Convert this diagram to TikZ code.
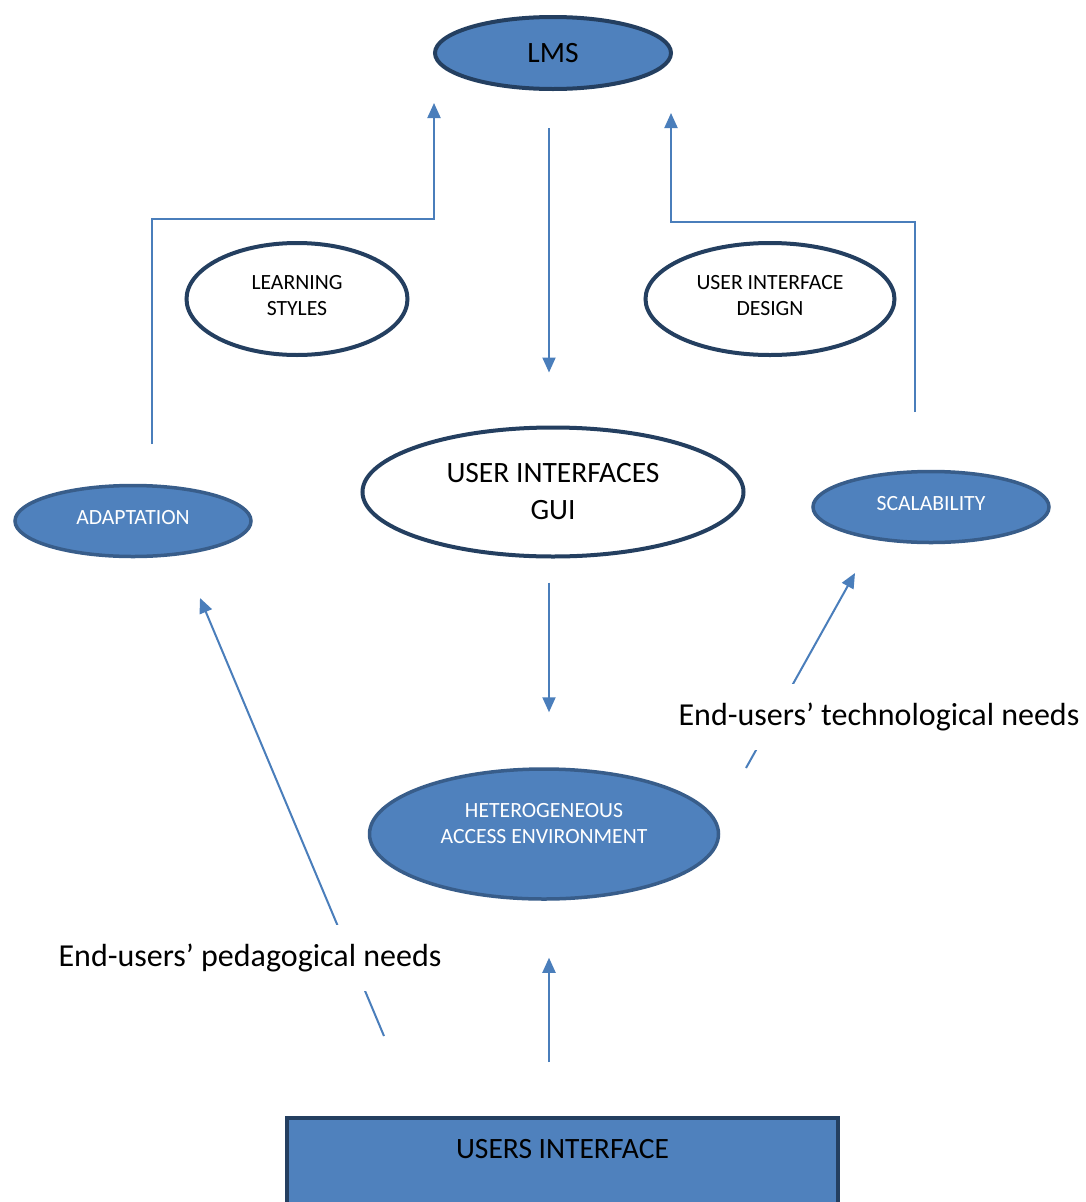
\documentclass[tikz,border=0pt]{standalone}
\usepackage{fontspec}
\setmainfont{Carlito}
\usetikzlibrary{arrows.meta,positioning,shapes.geometric}
\definecolor{boxblue}{HTML}{4F81BD}
\definecolor{darkrim}{HTML}{243F60}
\definecolor{softrim}{HTML}{385D8A}
\definecolor{linkblue}{HTML}{4A7EBB}

\begin{document}
\begin{tikzpicture}[x=1pt, y=-1pt,
    bluebub/.style={ellipse, draw=darkrim, line width=4pt, fill=boxblue, inner sep=0pt},
    whitebub/.style={ellipse, draw=darkrim, line width=4pt, fill=white, inner sep=0pt, align=center},
    subbub/.style={ellipse, draw=softrim, line width=3.5pt, fill=boxblue, text=white, inner sep=0pt, align=center},
    flow/.style={linkblue, line width=2pt, -{Triangle[length=15pt,width=13pt]}},
    needs/.style={fill=white, inner xsep=2pt, inner ysep=0pt, minimum height=66pt, font=\fontsize{32}{38}\selectfont},
    small/.style={font=\fontsize{21.7}{26}\selectfont},
    big/.style={font=\fontsize{29.5}{37}\selectfont}]

    \clip (0,0) rectangle (1086,1202);
    \fill[white] (0,0) rectangle (1086,1202);

    % bubbles
    \node[bluebub, big, minimum width=236pt, minimum height=72pt] (lms) at (553,53) {LMS};
    \node[whitebub, small, minimum width=221pt, minimum height=112pt, text height=40pt, text depth=8pt] (styles) at (297,299) {LEARNING\\STYLES};
    \node[whitebub, small, minimum width=249pt, minimum height=112pt, text height=40pt, text depth=8pt] (uidesign) at (770,299) {USER INTERFACE\\DESIGN};
    \node[whitebub, big, minimum width=381pt, minimum height=129pt] (gui) at (553,492) {USER INTERFACES\\GUI};
    \node[subbub, small, minimum width=236pt, minimum height=71pt, text height=15pt, text depth=9pt] (adapt) at (133,521) {ADAPTATION};
    \node[subbub, small, minimum width=236pt, minimum height=71pt, text height=15pt, text depth=9pt] (scale) at (931,507) {SCALABILITY};
    \node[subbub, small, minimum width=349pt, minimum height=130pt, text height=40pt, text depth=22pt] (hetero) at (544,834) {HETEROGENEOUS\\ACCESS ENVIRONMENT};
    \node[draw=darkrim, line width=4pt, fill=boxblue, big, minimum width=551pt, anchor=north,
      text height=20pt, text depth=80pt, inner ysep=20pt] (users) at (562.5,1116) {USERS INTERFACE};

    % connectors
    \coordinate (spine) at (549,0);
    \coordinate (adaptUp) at (152,444);
    \coordinate (lmsLeft) at (434,103);
    \coordinate (scaleUp) at (915,412);
    \coordinate (lmsRight) at (671,113);
    \coordinate (pedFoot) at (384,1036);
    \coordinate (pedTip) at (200,598);
    \coordinate (techFoot) at (746,768);
    \coordinate (techTip) at (855,573);

    \draw[flow, shorten <=37pt, shorten >=53pt] (lms.south -| spine) -- (gui.north -| spine);
    \draw[flow, shorten <=24pt, shorten >=55pt] (gui.south -| spine) -- (hetero.north -| spine);
    \draw[flow, shorten <=54pt, shorten >=57pt] (users.north -| spine) -- (hetero.south -| spine);
    \draw[flow] (adaptUp) -- ++(0,-225) -| (lmsLeft);
    \draw[flow] (scaleUp) -- ++(0,-190) -| (lmsRight);
    \draw[flow] (pedFoot) -- (pedTip);
    \draw[flow] (techFoot) -- (techTip);

    % needs labels
    \node[needs] (pedneeds) at (250,958) {End-users’ pedagogical needs};
    \node[needs] (techneeds) at (879,717) {End-users’ technological needs};
\end{tikzpicture}
\end{document}
